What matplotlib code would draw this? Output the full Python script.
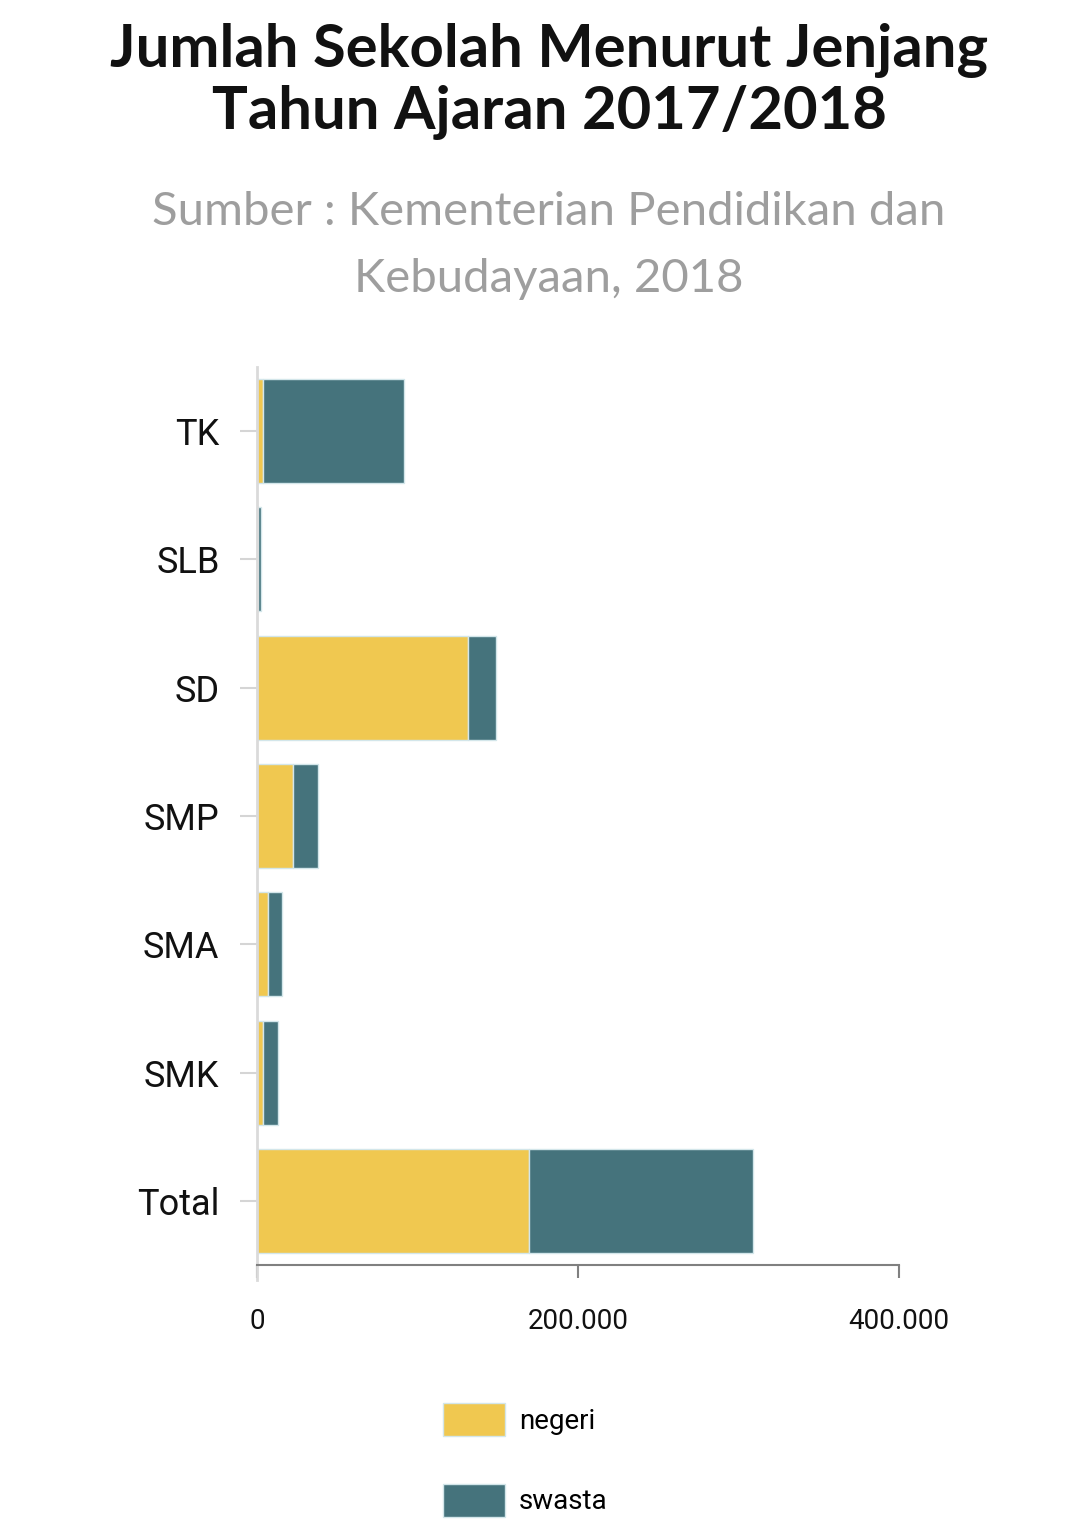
import matplotlib
matplotlib.use("Agg")
import matplotlib.pyplot as plt
from matplotlib.ticker import FuncFormatter

# data (number of schools)
categories = ["TK", "SLB", "SD", "SMP", "SMA", "SMK", "Total"]
negeri = [3500, 600, 131200, 22400, 6900, 3500, 169500]
swasta = [88100, 1600, 17400, 15600, 8700, 9800, 139800]
x_ticks = [0, 200000, 400000]

yellow = "#F0C850"
teal = "#45737C"
edge = "#D3E6EA"

fig = plt.figure(figsize=(10.8, 15.28), dpi=100)
fig.patch.set_facecolor("white")

# axes placed to match the reference pixel box
ax = fig.add_axes([257 / 1080, 1 - 1265 / 1528, 642 / 1080, 898 / 1528])

pos = list(range(len(categories)))
ax.barh(pos, negeri, height=0.81, color=yellow, edgecolor=edge, linewidth=1, label="negeri")
ax.barh(pos, swasta, left=negeri, height=0.81, color=teal, edgecolor=edge, linewidth=1, label="swasta")

ax.set_ylim(6.5, -0.5)
ax.set_xlim(0, 400000)
ax.set_yticks(pos)
ax.set_yticklabels(categories, fontsize=26, family="Roboto", color="#111111")
ax.set_xticks(x_ticks)
ax.xaxis.set_major_formatter(FuncFormatter(lambda v, p: f"{int(v):,}".replace(",", ".")))
for lab in ax.get_xticklabels():
    lab.set_family("Roboto")
    lab.set_fontsize(20)
    lab.set_color("#111111")

ax.tick_params(axis="y", length=12, width=1.5, color="#D5D5D5", pad=15)
ax.tick_params(axis="x", length=9, width=1.5, color="#808080", pad=22)

for side in ["top", "right"]:
    ax.spines[side].set_visible(False)
ax.spines["left"].set_color("#DADADA")
ax.spines["left"].set_linewidth(2)
ax.spines["bottom"].set_color("#808080")
ax.spines["bottom"].set_linewidth(1.5)
ax.spines["left"].set_bounds(6.62, -0.5)

# title and source
cx = 549 / 1080
fig.text(cx, 1 - 51 / 1528, "Jumlah Sekolah Menurut Jenjang", ha="center", va="center",
         fontsize=43, fontweight="bold", family="Lato", color="#111111")
fig.text(cx, 1 - 113 / 1528, "Tahun Ajaran 2017/2018", ha="center", va="center",
         fontsize=43, fontweight="bold", family="Lato", color="#111111")
fig.text(cx, 1 - 212 / 1528, "Sumber : Kementerian Pendidikan dan", ha="center", va="center",
         fontsize=34, family="Lato", color="#9E9E9E")
fig.text(cx, 1 - 279 / 1528, "Kebudayaan, 2018", ha="center", va="center",
         fontsize=34, family="Lato", color="#9E9E9E")

leg = fig.legend(loc="upper left", bbox_to_anchor=(443 / 1080, 1 - 1403 / 1528), frameon=False,
                 prop={"family": "Roboto", "size": 20}, handlelength=2.23, handleheight=1.45,
                 labelspacing=1.72, handletextpad=0.5, borderpad=0, borderaxespad=0)

fig.savefig("out.png", dpi=100)
